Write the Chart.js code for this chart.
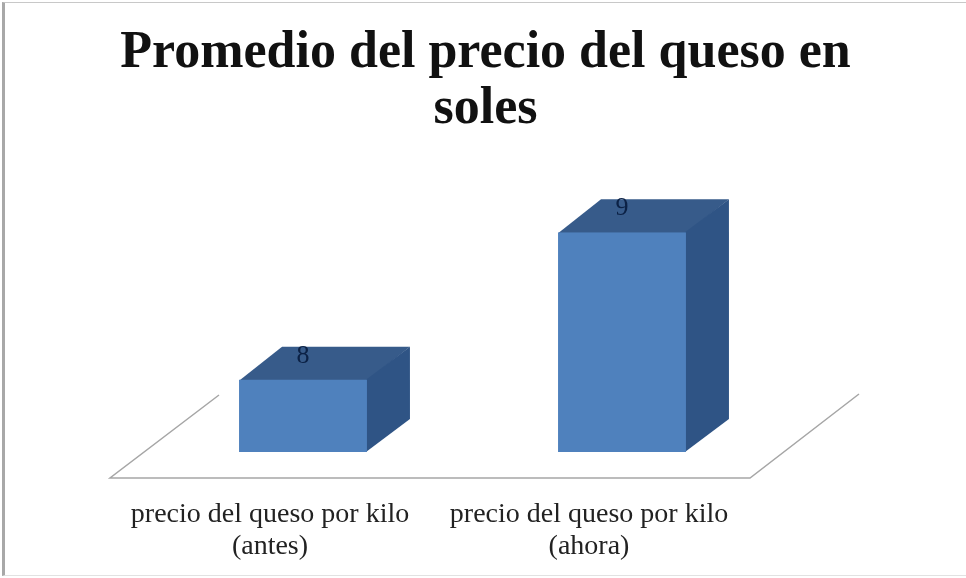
<!DOCTYPE html>
<html lang="es">
<head>
  <meta charset="UTF-8">
  <title>Promedio del precio del queso en soles</title>
  <script src="https://cdn.jsdelivr.net/npm/chart.js"></script>
  <style>
    body { margin: 0; background: #fff; }
    #wrap { position: relative; width: 966px; height: 578px; overflow: hidden; }
    #frame {
      position: absolute; left: 2px; top: 2px; right: 0; bottom: 2px;
      border-left: 3px solid #a8a8a8;
      border-top: 1px solid #c8c8c8;
      border-bottom: 1px solid #e2e2e2;
    }
    canvas { position: absolute; left: 0; top: 0; }
  </style>
</head>
<body>
  <div id="wrap">
    <canvas id="chart" width="966" height="578"></canvas>
    <div id="frame"></div>
  </div>

  <script>
    const categories = [
      ['precio del queso por kilo', '(antes)'],
      ['precio del queso por kilo', '(ahora)']
    ];
    const values = [8, 9];
    const titleLines = ['Promedio del precio del queso en', 'soles'];

    const serif = '"Liberation Serif", serif';
    // 3d look of the old office chart
    const depthX = 43;
    const depthY = 33;

    const bars3d = {
      id: 'bars3d',
      beforeDatasetsDraw(chart) {
        const ctx = chart.ctx;
        const area = chart.chartArea;
        const floorY = area.bottom + 26;
        const floorL = area.left - 33.5;
        const floorR = area.right - 31.5;

        // floor outline
        ctx.save();
        ctx.strokeStyle = '#a6a6a6';
        ctx.lineWidth = 1.5;
        ctx.beginPath();
        ctx.moveTo(floorL + 109, floorY - 83);
        ctx.lineTo(floorL, floorY);
        ctx.lineTo(floorR, floorY);
        ctx.lineTo(floorR + 109, floorY - 84);
        ctx.stroke();

        chart.getDatasetMeta(0).data.forEach(bar => {
          const half = bar.width / 2;
          const l = bar.x - half;
          const r = bar.x + half;
          // top face, 1px overlap under the front so no light seam shows
          ctx.fillStyle = '#375b8a';
          ctx.beginPath();
          ctx.moveTo(l, bar.y + 1);
          ctx.lineTo(l + depthX, bar.y - depthY);
          ctx.lineTo(r + depthX, bar.y - depthY);
          ctx.lineTo(r, bar.y + 1);
          ctx.closePath();
          ctx.fill();
          // side face, bar.base sits below the axis so use the plot bottom
          ctx.fillStyle = '#2f5485';
          ctx.beginPath();
          ctx.moveTo(r - 1, bar.y);
          ctx.lineTo(r + depthX, bar.y - depthY);
          ctx.lineTo(r + depthX, area.bottom - depthY);
          ctx.lineTo(r - 1, area.bottom);
          ctx.closePath();
          ctx.fill();
        });
        ctx.restore();
      },
      afterDatasetsDraw(chart) {
        const ctx = chart.ctx;
        ctx.save();
        ctx.fillStyle = '#0b2145';
        ctx.font = '26px ' + serif;
        ctx.textAlign = 'center';
        ctx.textBaseline = 'middle';
        chart.getDatasetMeta(0).data.forEach((bar, i) => {
          ctx.fillText(values[i], bar.x, bar.y - 24);
        });
        ctx.restore();
      }
    };

    new Chart(document.getElementById('chart'), {
      type: 'bar',
      data: {
        labels: categories,
        datasets: [{
          data: values,
          backgroundColor: '#4f81bd',
          barPercentage: 0.401,
          categoryPercentage: 1
        }]
      },
      options: {
        responsive: false,
        animation: false,
        layout: { padding: { left: 5 } },
        plugins: {
          legend: { display: false },
          tooltip: { enabled: false },
          title: {
            display: true,
            text: titleLines,
            color: '#111',
            font: { family: serif, size: 52, weight: 'bold', lineHeight: 1.08 },
            padding: { top: 25, bottom: 95 }
          }
        },
        scales: {
          x: {
            grid: { display: false },
            border: { display: false },
            ticks: {
              color: '#222',
              font: { family: serif, size: 28, lineHeight: 1.14 },
              padding: 39,
              labelOffset: -33,
              maxRotation: 0,
              autoSkip: false
            },
            afterFit(scale) { scale.height = 126; }
          },
          y: {
            min: 7.51,
            max: 9,
            grid: { display: false },
            border: { display: false },
            ticks: { display: false },
            afterFit(scale) { scale.width = 138.5; }
          },
          // empty axis, only keeps the plot off the right edge
          yRight: {
            position: 'right',
            grid: { display: false },
            border: { display: false },
            ticks: { display: false },
            afterFit(scale) { scale.width = 184.5; }
          }
        }
      },
      plugins: [bars3d]
    });
  </script>
</body>
</html>
